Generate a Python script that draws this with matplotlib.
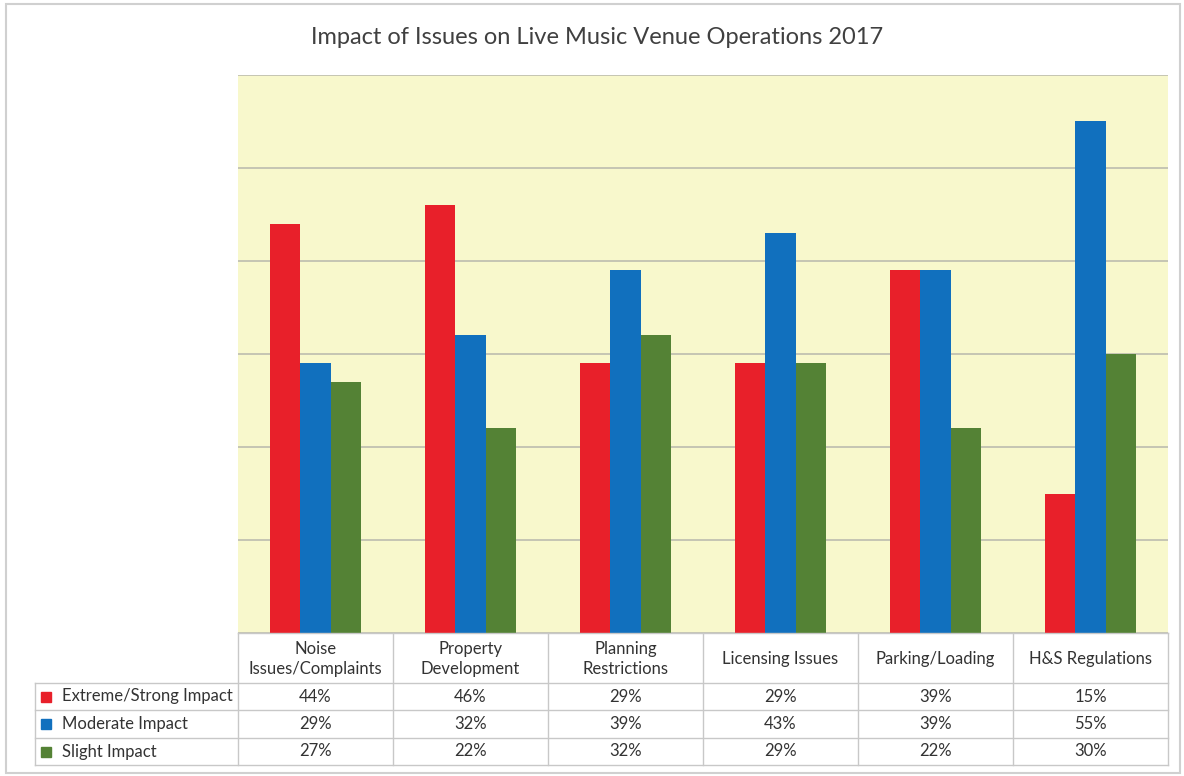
import numpy as np
import matplotlib.pyplot as plt
from matplotlib.patches import Rectangle

plt.rcParams['font.family'] = ['Lato', 'DejaVu Sans']

categories = [
    "Noise\nIssues/Complaints",
    "Property\nDevelopment",
    "Planning\nRestrictions",
    "Licensing Issues",
    "Parking/Loading",
    "H&S Regulations",
]
series_names = ["Extreme/Strong Impact", "Moderate Impact", "Slight Impact"]
extreme = [44, 46, 29, 29, 39, 15]
moderate = [29, 32, 39, 43, 39, 55]
slight = [27, 22, 32, 29, 22, 30]
colors = ["#E8202A", "#1170BE", "#548235"]

W, H = 1184, 776
fig = plt.figure(figsize=(W / 100, H / 100), dpi=100)

# plot area in pixels
px0, px1, py0, py1 = 238, 1168, 75, 633
ax = fig.add_axes([px0 / W, 1 - py1 / H, (px1 - px0) / W, (py1 - py0) / H])
ax.set_facecolor("#F8F8CC")
x = np.arange(len(categories))
bw = 0.195
for i, vals in enumerate([extreme, moderate, slight]):
    ax.bar(x + (i - 1) * bw, vals, bw, color=colors[i], zorder=3)
ax.set_xlim(-0.5, len(categories) - 0.5)
ax.set_ylim(0, 60)
ax.set_yticks(np.arange(0, 61, 10))
ax.yaxis.grid(True, color="#BDBDAF", linewidth=1.2, zorder=0)
ax.tick_params(left=False, bottom=False, labelleft=False, labelbottom=False)
for s in ax.spines.values():
    s.set_visible(False)

# overlay for table, title and frame
ov = fig.add_axes([0, 0, 1, 1], facecolor="none")
ov.set_xlim(0, W)
ov.set_ylim(H, 0)
ov.axis("off")

ov.add_patch(Rectangle((6, 4), W - 10, H - 7, fill=False, edgecolor="#D0D0D0", linewidth=1.5))
ov.text(597, 37, "Impact of Issues on Live Music Venue Operations 2017",
        ha="center", va="center", fontsize=17, color="#404040")

tcol = "#C8C8C8"
tl = 35
row_y = [633, 683, 710, 738, 765]
cw = (px1 - px0) / len(categories)
col_x = [px0 + k * cw for k in range(len(categories) + 1)]
fs = 12
tc = "#333333"

# table grid
ov.plot([px0, px1], [row_y[0], row_y[0]], color=tcol, lw=1)
for yy in row_y[1:]:
    ov.plot([tl, px1], [yy, yy], color=tcol, lw=1)
for xx in col_x:
    ov.plot([xx, xx], [row_y[0], row_y[-1]], color=tcol, lw=1)
ov.plot([tl, tl], [row_y[1], row_y[-1]], color=tcol, lw=1)

for k, c in enumerate(categories):
    ov.text((col_x[k] + col_x[k + 1]) / 2, (row_y[0] + row_y[1]) / 2 + 1, c,
            ha="center", va="center", fontsize=fs, color=tc, linespacing=1.3)

for r, (name, vals) in enumerate(zip(series_names, [extreme, moderate, slight])):
    yc = (row_y[r + 1] + row_y[r + 2]) / 2
    ov.add_patch(Rectangle((41, yc - 5), 10, 10, color=colors[r]))
    ov.text(62, yc, name, ha="left", va="center", fontsize=fs, color=tc)
    for k, v in enumerate(vals):
        ov.text((col_x[k] + col_x[k + 1]) / 2, yc, f"{v}%", ha="center", va="center",
                fontsize=fs, color=tc)

fig.savefig("out.png", dpi=100)
